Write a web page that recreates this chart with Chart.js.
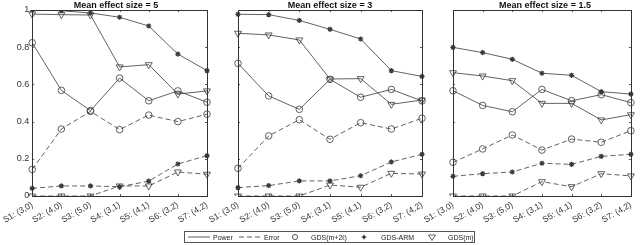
<!DOCTYPE html>
<html><head><meta charset="utf-8">
<script src="https://cdn.jsdelivr.net/npm/chart.js@4"></script>
<style>
html,body{margin:0;padding:0;background:#fff;}
#wrap{position:relative;width:640px;height:245px;font-family:"Liberation Sans",Arial,sans-serif;}
canvas{position:absolute;left:0;top:0;}
.title{position:absolute;top:0;font-weight:bold;font-size:9px;color:#111;white-space:nowrap;transform:translateX(-50%);line-height:10px;}
#legend{position:absolute;left:184px;top:231px;width:291px;height:12px;border:1px solid #555;box-sizing:border-box;font-size:7px;color:#222;}
#legend span{position:absolute;top:1.5px;line-height:8px;}
#legend svg{position:absolute;top:0;}
</style></head><body>
<div id="wrap">
<canvas id="c1" width="640" height="245"></canvas>
<canvas id="c2" width="640" height="245"></canvas>
<canvas id="c3" width="640" height="245"></canvas>
<div class="title" style="left:116px">Mean effect size = 5</div>
<div class="title" style="left:330px">Mean effect size = 3</div>
<div class="title" style="left:545px">Mean effect size = 1.5</div>
<div id="legend">
<svg style="left:2px" width="24" height="10"><line x1="1" y1="5" x2="23" y2="5" stroke="#333" stroke-width="0.8"/></svg>
<span style="left:28px">Power</span>
<svg style="left:53px" width="24" height="10"><line x1="1" y1="5" x2="23" y2="5" stroke="#333" stroke-width="0.8" stroke-dasharray="5,3"/></svg>
<span style="left:79px">Error</span>
<svg style="left:105px" width="10" height="10"><circle cx="5" cy="5" r="2.6" fill="none" stroke="#333" stroke-width="0.8"/></svg>
<span style="left:126px">GDS(m+2ℓ)</span>
<svg style="left:174px" width="10" height="10"><circle cx="5" cy="5" r="1.6" fill="#333"/><path d="M5 2.5V7.5M2.5 5H7.5" stroke="#333" stroke-width="0.8"/></svg>
<span style="left:196px">GDS-ARM</span>
<svg style="left:242px" width="10" height="10"><path d="M1.5 3L8.5 3L5 8.5Z" fill="none" stroke="#333" stroke-width="0.8"/></svg>
<span style="left:263px">GDS(m)</span>
</div>
</div>
<script>
const categories = ["S1: (3,0)","S2: (4,0)","S3: (5,0)","S4: (3,1)","S5: (4,1)","S6: (3,2)","S7: (4,2)"];
const yTicks = [0, 0.2, 0.4, 0.6, 0.8, 1];
const panelTitles = ["Mean effect size = 5","Mean effect size = 3","Mean effect size = 1.5"];

// Panel 1: mean effect size = 5
const p1PowerGdsM2l = [0.824, 0.568, 0.459, 0.634, 0.512, 0.565, 0.504];
const p1PowerArm    = [1.000, 0.996, 0.984, 0.961, 0.914, 0.763, 0.674];
const p1PowerGdsM   = [0.978, 0.975, 0.973, 0.694, 0.706, 0.548, 0.565];
const p1ErrorGdsM2l = [0.143, 0.360, 0.455, 0.357, 0.435, 0.400, 0.440];
const p1ErrorArm    = [0.041, 0.054, 0.054, 0.050, 0.080, 0.172, 0.217];
const p1ErrorGdsM   = [0.000, 0.000, 0.000, 0.054, 0.054, 0.129, 0.117];

// Panel 2: mean effect size = 3
const p2PowerGdsM2l = [0.713, 0.538, 0.466, 0.627, 0.531, 0.573, 0.511];
const p2PowerArm    = [0.977, 0.975, 0.944, 0.896, 0.844, 0.674, 0.643];
const p2PowerGdsM   = [0.875, 0.866, 0.839, 0.629, 0.631, 0.493, 0.516];
const p2ErrorGdsM2l = [0.149, 0.323, 0.410, 0.305, 0.394, 0.360, 0.418];
const p2ErrorArm    = [0.045, 0.056, 0.081, 0.081, 0.109, 0.183, 0.224];
const p2ErrorGdsM   = [0.000, 0.000, 0.000, 0.059, 0.047, 0.122, 0.118];

// Panel 3: mean effect size = 1.5
const p3PowerGdsM2l = [0.566, 0.487, 0.453, 0.573, 0.512, 0.545, 0.502];
const p3PowerArm    = [0.799, 0.771, 0.735, 0.660, 0.649, 0.561, 0.548];
const p3PowerGdsM   = [0.663, 0.645, 0.620, 0.498, 0.498, 0.409, 0.437];
const p3ErrorGdsM2l = [0.181, 0.253, 0.328, 0.247, 0.306, 0.289, 0.351];
const p3ErrorArm    = [0.106, 0.120, 0.129, 0.176, 0.170, 0.213, 0.224];
const p3ErrorGdsM   = [0.000, 0.000, 0.000, 0.077, 0.050, 0.120, 0.108];

const LINE = '#3a3a3a';
function ds(data, marker, dashed){
  const base = {data, borderColor: LINE, borderWidth: 0.8, fill:false, tension:0,
    borderDash: dashed ? [5,3] : [], pointBorderColor: LINE, pointBorderWidth: 0.8,
    pointBackgroundColor: 'rgba(0,0,0,0)'};
  if (marker === 'circle') Object.assign(base, {pointStyle:'circle', pointRadius:3.3});
  if (marker === 'star') Object.assign(base, {pointStyle:'star', pointRadius:2.6, pointBorderWidth:1.2});
  if (marker === 'tri') Object.assign(base, {pointStyle:'triangle', pointRotation:180, pointRadius:4});
  return base;
}
const boxPlugin = {
  id:'box',
  afterDraw(chart){
    const a = chart.chartArea, ctx = chart.ctx;
    ctx.save(); ctx.strokeStyle = '#333'; ctx.lineWidth = 1;
    ctx.strokeRect(Math.round(a.left)+0.5, Math.round(a.top)+0.5, Math.round(a.right-a.left), Math.round(a.bottom-a.top));
    const ys = chart.scales.y, xs = chart.scales.x;
    ctx.lineWidth = 0.8;
    yTicks.forEach(v => { const y = Math.round(ys.getPixelForValue(v))+0.5;
      ctx.beginPath(); ctx.moveTo(a.left, y); ctx.lineTo(a.left+2, y);
      ctx.moveTo(a.right, y); ctx.lineTo(a.right-2, y); ctx.stroke(); });
    categories.forEach((c,i) => { const x = Math.round(xs.getPixelForValue(i))+0.5;
      ctx.beginPath(); ctx.moveTo(x, a.bottom); ctx.lineTo(x, a.bottom-2);
      ctx.moveTo(x, a.top); ctx.lineTo(x, a.top+2); ctx.stroke(); });
    ctx.restore();
  }
};
function makePanel(id, left, right, showY, series){
  new Chart(document.getElementById(id), {
    type:'line',
    data:{ labels: categories, datasets:[
      ds(series[0],'circle',false), ds(series[1],'star',false), ds(series[2],'tri',false),
      ds(series[3],'circle',true), ds(series[4],'star',true), ds(series[5],'tri',true)
    ]},
    options:{
      responsive:false, animation:false, devicePixelRatio:1,
      layout:{padding:{left: showY ? left-25 : left, right: 640-right, top:10, bottom:0}},
      plugins:{legend:{display:false}, tooltip:{enabled:false}, title:{display:false}},
      scales:{
        x:{ type:'category', offset:false,
            grid:{display:false, drawTicks:false}, border:{display:false},
            ticks:{ autoSkip:false, minRotation:30, maxRotation:30, padding:4,
                    color:'#333', font:{family:'"Liberation Sans", Arial, sans-serif', size:8.5}},
            afterFit(s){ s.height = 49; } },
        y:{ min:0, max:1, afterBuildTicks(s){ s.ticks = yTicks.map(v=>({value:v})); },
            grid:{display:false, drawTicks:false}, border:{display:false},
            ticks:{ display: showY, padding:3, color:'#333',
                    font:{family:'"Liberation Sans", Arial, sans-serif', size:9},
                    callback:(v)=> String(v) },
            afterFit(s){ s.width = showY ? 25 : 0; } }
      }
    },
    plugins:[boxPlugin]
  });
}
makePanel('c1', 25, 207, true, [p1PowerGdsM2l,p1PowerArm,p1PowerGdsM,p1ErrorGdsM2l,p1ErrorArm,p1ErrorGdsM]);
makePanel('c2', 238, 422, false, [p2PowerGdsM2l,p2PowerArm,p2PowerGdsM,p2ErrorGdsM2l,p2ErrorArm,p2ErrorGdsM]);
makePanel('c3', 453, 637, false, [p3PowerGdsM2l,p3PowerArm,p3PowerGdsM,p3ErrorGdsM2l,p3ErrorArm,p3ErrorGdsM]);
</script>
</body></html>
